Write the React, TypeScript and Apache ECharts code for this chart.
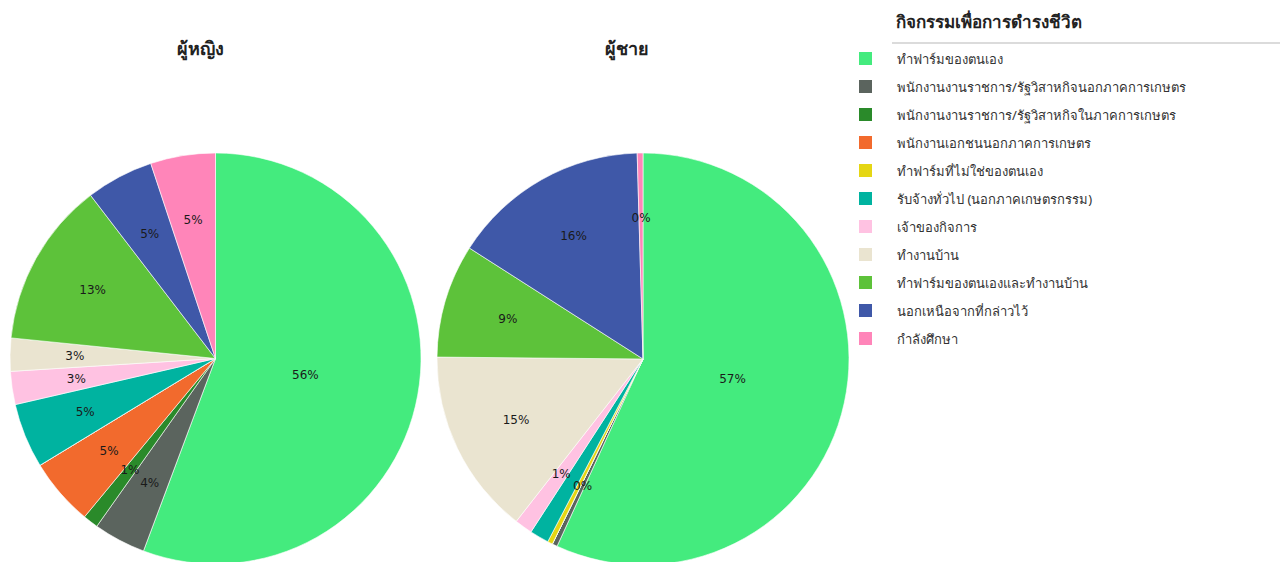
import React, { useEffect, useRef } from "react";
import * as echarts from "echarts";

const categories = [
  "ทำฟาร์มของตนเอง",
  "พนักงานงานราชการ/รัฐวิสาหกิจนอกภาคการเกษตร",
  "พนักงานงานราชการ/รัฐวิสาหกิจในภาคการเกษตร",
  "พนักงานเอกชนนอกภาคการเกษตร",
  "ทำฟาร์มที่ไม่ใช่ของตนเอง",
  "รับจ้างทั่วไป (นอกภาคเกษตรกรรม)",
  "เจ้าของกิจการ",
  "ทำงานบ้าน",
  "ทำฟาร์มของตนเองและทำงานบ้าน",
  "นอกเหนือจากที่กล่าวไว้",
  "กำลังศึกษา",
];

const sliceColors = [
  "#44EB7E",
  "#5B645E",
  "#2A8A2A",
  "#F26A2D",
  "#E5D614",
  "#00B3A0",
  "#FFC2E2",
  "#EAE4D0",
  "#5DC23A",
  "#3F58A8",
  "#FF85B9",
];

const femaleValues = [55.7, 4.1, 1.2, 5.3, 0, 5.1, 2.6, 2.6, 13.0, 5.3, 5.1];
const maleValues = [56.85, 0.4, 0, 0, 0.4, 1.5, 1.4, 14.6, 8.9, 15.5, 0.45];

const femaleHiddenLabels = [4];
const maleHiddenLabels = [2, 3, 5];

const pieTitles = ["ผู้หญิง", "ผู้ชาย"];
const legendTitle = "กิจกรรมเพื่อการดำรงชีวิต";

const THAI_FONT = "'Noto Sans', 'DejaVu Sans', sans-serif";

function buildSeries(
  name: string,
  values: number[],
  hidden: number[],
  center: [number, number],
  radius: number
) {
  const labelStyle = {
    position: "inside",
    formatter: (p: any) => `${Math.round(p.percent)}%`,
    fontSize: 12,
    color: "#1a1a1a",
    fontFamily: "'DejaVu Sans', sans-serif",
  };
  const visible = {
    type: "pie",
    name,
    center,
    radius: [0, radius],
    startAngle: 90,
    clockwise: true,
    silent: true,
    emphasis: { disabled: true },
    label: { show: false },
    labelLine: { show: false },
    itemStyle: { borderColor: "#ffffff", borderWidth: 0.6 },
    data: values.map((v, i) => ({
      name: categories[i],
      value: v,
      itemStyle: { color: sliceColors[i] },
    })),
  };
  const smallLabels = {
    type: "pie",
    name: name + "-labels",
    center,
    radius: [0, radius * 1.34],
    startAngle: 90,
    clockwise: true,
    silent: true,
    z: 3,
    emphasis: { disabled: true },
    labelLine: { show: false },
    label: labelStyle,
    data: values.map((v, i) => ({
      name: categories[i],
      value: v,
      itemStyle: { color: "rgba(0,0,0,0)", borderWidth: 0 },
      label: { show: i !== 0 && !hidden.includes(i) },
    })),
  };
  const bigLabel = {
    type: "pie",
    name: name + "-main",
    center,
    radius: [0, radius * 0.86],
    startAngle: 90,
    clockwise: true,
    silent: true,
    z: 3,
    emphasis: { disabled: true },
    labelLine: { show: false },
    label: labelStyle,
    data: values.map((v, i) => ({
      name: categories[i],
      value: v,
      itemStyle: { color: "rgba(0,0,0,0)", borderWidth: 0 },
      label: { show: i === 0 },
    })),
  };
  return [visible, smallLabels, bigLabel];
}

export default function App() {
  const ref = useRef<HTMLDivElement>(null);

  useEffect(() => {
    document.body.style.margin = "0";
    if (!ref.current) return;
    const chart = echarts.init(ref.current, undefined, { renderer: "svg" });
    const option = {
      animation: false,
      backgroundColor: "#ffffff",
      title: [
        {
          text: pieTitles[0],
          left: 195,
          top: 34,
          textAlign: "center",
          textStyle: { fontSize: 18, fontWeight: "bold", color: "#222", fontFamily: THAI_FONT },
        },
        {
          text: pieTitles[1],
          left: 622,
          top: 34,
          textAlign: "center",
          textStyle: { fontSize: 18, fontWeight: "bold", color: "#222", fontFamily: THAI_FONT },
        },
        {
          text: legendTitle,
          left: 891,
          top: 8,
          textAlign: "left",
          textStyle: { fontSize: 17, fontWeight: "bold", color: "#222", fontFamily: THAI_FONT },
        },
      ],
      legend: {
        orient: "vertical",
        left: 857,
        top: 50,
        padding: 0,
        icon: "rect",
        itemWidth: 15,
        itemHeight: 15,
        itemGap: 11,
        selectedMode: false,
        data: categories,
        textStyle: {
          fontSize: 13,
          color: "#333",
          lineHeight: 15,
          fontFamily: THAI_FONT,
          padding: [0, 0, 0, 19],
        },
      },
      graphic: [
        {
          type: "line",
          shape: { x1: 892, y1: 43, x2: 1280, y2: 43 },
          style: { stroke: "#cfcfcf", lineWidth: 1.5 },
          silent: true,
        },
      ],
      series: [
        ...buildSeries(pieTitles[0], femaleValues, femaleHiddenLabels, [215.5, 358.5], 205.5),
        ...buildSeries(pieTitles[1], maleValues, maleHiddenLabels, [643, 359], 206),
      ],
    };
    chart.setOption(option as any);
    return () => chart.dispose();
  }, []);

  return <div ref={ref} style={{ width: 1280, height: 562 }} />;
}
